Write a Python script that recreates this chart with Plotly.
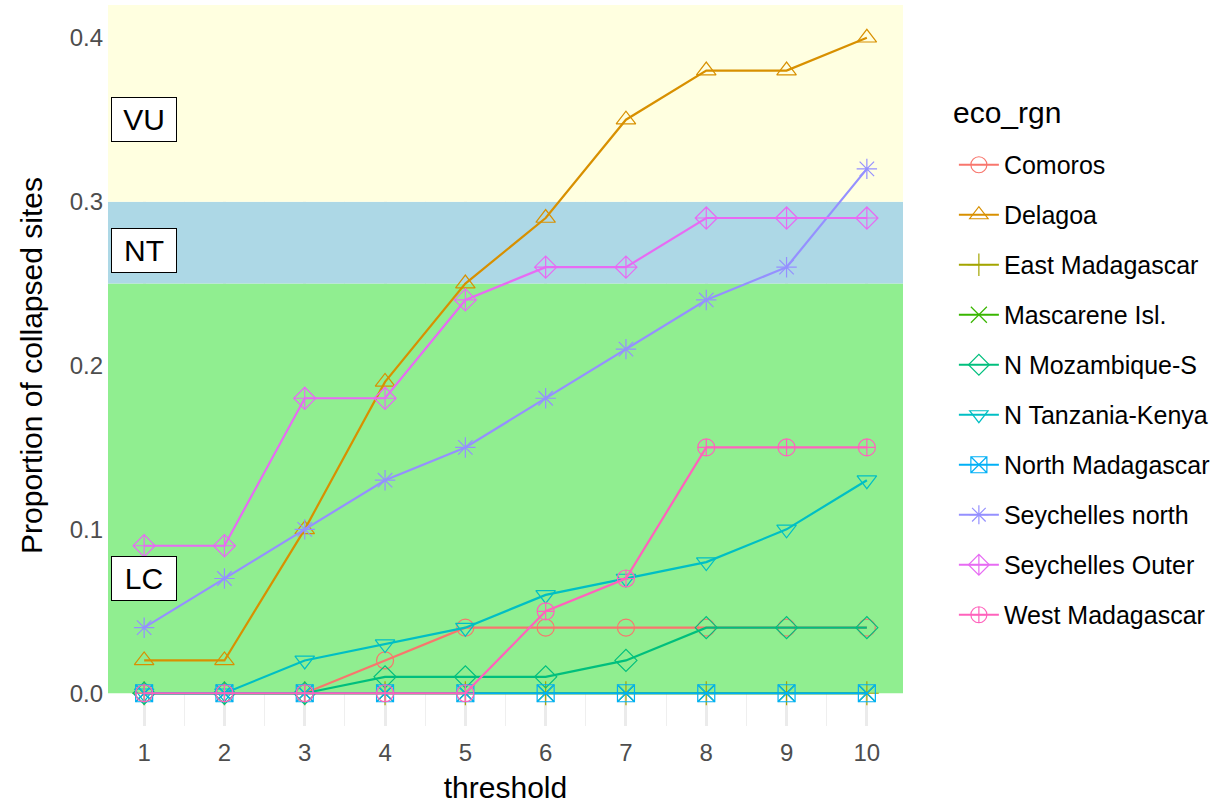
import plotly.graph_objects as go

threshold = [1, 2, 3, 4, 5, 6, 7, 8, 9, 10]

regions = ["Comoros", "Delagoa", "East Madagascar", "Mascarene Isl.", "N Mozambique-S",
           "N Tanzania-Kenya", "North Madagascar", "Seychelles north", "Seychelles Outer",
           "West Madagascar"]

comoros = [0, 0, 0, 0.02, 0.04, 0.04, 0.04, 0.04, 0.04, 0.04]
delagoa = [0.02, 0.02, 0.10, 0.19, 0.25, 0.29, 0.35, 0.38, 0.38, 0.40]
east_madagascar = [0, 0, 0, 0, 0, 0, 0, 0, 0, 0]
mascarene = [0, 0, 0, 0, 0, 0, 0, 0, 0, 0]
n_mozambique = [0, 0, 0, 0.01, 0.01, 0.01, 0.02, 0.04, 0.04, 0.04]
n_tanzania = [0, 0, 0.02, 0.03, 0.04, 0.06, 0.07, 0.08, 0.10, 0.13]
north_madagascar = [0, 0, 0, 0, 0, 0, 0, 0, 0, 0]
seychelles_north = [0.04, 0.07, 0.10, 0.13, 0.15, 0.18, 0.21, 0.24, 0.26, 0.32]
seychelles_outer = [0.09, 0.09, 0.18, 0.18, 0.24, 0.26, 0.26, 0.29, 0.29, 0.29]
west_madagascar = [0, 0, 0, 0, 0, 0.05, 0.07, 0.15, 0.15, 0.15]

series = [comoros, delagoa, east_madagascar, mascarene, n_mozambique, n_tanzania,
          north_madagascar, seychelles_north, seychelles_outer, west_madagascar]

colors = ["#F8766D", "#D89000", "#A3A500", "#39B600", "#00BF7D", "#00BFC4",
          "#00B0F6", "#9590FF", "#E76BF3", "#FF62BC"]
symbols = ["circle-open", "triangle-up-open", "cross-thin-open", "x-thin-open", "diamond-open",
           "triangle-down-open", "square-x-open", "asterisk-open", "diamond-cross-open",
           "circle-cross-open"]

# Status bands
band_names = ["LC", "NT", "VU"]
band_low = [0, 0.25, 0.30]
band_high = [0.25, 0.30, 0.42]
band_colors = ["#90EE90", "#ADD8E6", "#FFFFE0"]
label_y = [0.07, 0.27, 0.35]

X_RANGE = [0.55, 10.45]
Y_RANGE = [-0.02, 0.42]

FONT = "Arial, Liberation Sans, sans-serif"

fig = go.Figure()

# background bands as filled traces (drawn above the grid, below the data)
for lo, hi, c in zip(band_low, band_high, band_colors):
    fig.add_trace(go.Scatter(
        x=[X_RANGE[0], X_RANGE[1], X_RANGE[1], X_RANGE[0], X_RANGE[0]],
        y=[lo, lo, hi, hi, lo], fill="toself", fillcolor=c, mode="none",
        line=dict(width=0), showlegend=False, hoverinfo="skip",
    ))

for name, vals, c, s in zip(regions, series, colors, symbols):
    fig.add_trace(go.Scatter(
        x=threshold, y=vals, name=name, mode="lines+markers",
        legendgroup=name,
        line=dict(color=c, width=2.2),
        marker=dict(symbol=s, size=17, color=c, line=dict(width=1.2, color=c)),
    ))

for n, yv in zip(band_names, label_y):
    fig.add_annotation(x=1, y=yv, xref="x", yref="y", text=n, showarrow=False,
                       font=dict(family=FONT, size=30, color="black"),
                       width=52, height=31, align="center",
                       bgcolor="white", bordercolor="black", borderwidth=1, borderpad=6)

# legend title
fig.add_annotation(x=(951 - 108) / 795, y=(726 - 112) / 721, xref="paper", yref="paper",
                   text="eco_rgn", showarrow=False,
                   font=dict(family=FONT, size=30, color="black"),
                   xanchor="left", yanchor="middle")

fig.update_layout(
    width=1226, height=804,
    margin=dict(l=108, r=323, t=5, b=78),
    plot_bgcolor="white", paper_bgcolor="white",
    font=dict(family=FONT, size=24, color="#4D4D4D"),
    legend=dict(
        font=dict(family=FONT, size=25, color="black"),
        x=1.064, xanchor="left", y=0.81, yanchor="top",
        tracegroupgap=14.5, itemwidth=40,
        bgcolor="rgba(0,0,0,0)",
    ),
    xaxis=dict(
        range=X_RANGE, tickmode="array", tickvals=threshold,
        ticktext=[str(t) for t in threshold],
        showgrid=True, gridcolor="#EBEBEB", gridwidth=2.5,
        minor=dict(dtick=0.5, tick0=0.5, showgrid=True, gridcolor="#EFEFEF", gridwidth=1.2),
        zeroline=False, showline=False, ticks="", ticklabelstandoff=10, automargin=False,
        title=dict(text="threshold", font=dict(family=FONT, size=30, color="black"), standoff=14),
        tickfont=dict(size=24, color="#4D4D4D"),
    ),
    yaxis=dict(
        range=Y_RANGE, tickvals=[0, 0.1, 0.2, 0.3, 0.4], tickformat=".1f",
        showgrid=False, zeroline=False, showline=False,
        ticks="", ticklabelstandoff=4, automargin=False,
        title=dict(text="Proportion of collapsed sites", font=dict(family=FONT, size=30, color="black"), standoff=18),
        tickfont=dict(size=24, color="#4D4D4D"),
    ),
)

fig.write_html("out.html", config={"displayModeBar": False},
               post_script="document.body.style.margin='0px';")
